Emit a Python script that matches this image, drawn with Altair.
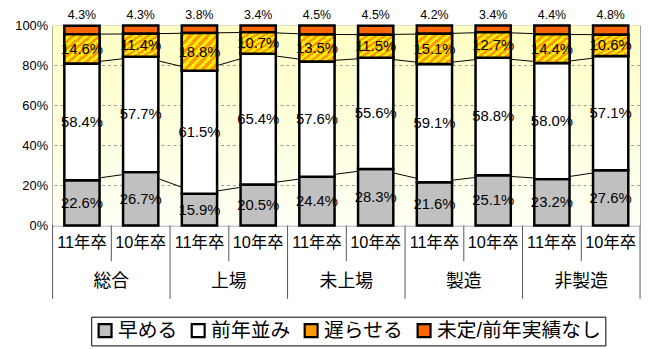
import altair as alt
import pandas as pd

groups = ["総合", "上場", "未上場", "製造", "非製造"]
years = ["11年卒", "10年卒"]
cats = ["早める", "前年並み", "遅らせる", "未定/前年実績なし"]
early = [22.6, 26.7, 15.9, 20.5, 24.4, 28.3, 21.6, 25.1, 23.2, 27.6]
same = [58.4, 57.7, 61.5, 65.4, 57.6, 55.6, 59.1, 58.8, 58.0, 57.1]
late = [14.6, 11.4, 18.8, 10.7, 13.5, 11.5, 15.1, 12.7, 14.4, 10.6]
undecided = [4.3, 4.3, 3.8, 3.4, 4.5, 4.5, 4.2, 3.4, 4.4, 4.8]
colors = ["#C0C0C0", "#FFFFFF", "#FF9900", "#FF6600"]

series = [early, same, late, undecided]
rows, lines, xlab = [], [], []
for i in range(10):
    y0 = 0.0
    for c, vals in zip(cats, series):
        v = vals[i]
        y1 = min(y0 + v, 100.0)
        rows.append(dict(i=i, xl=i + 0.2, xr=i + 0.8, xc=i + 0.5, cat=c,
                         y0=y0, y1=y1, mid=(y0 + y1) / 2, label=f"{v:.1f}%"))
        if c != cats[-1]:
            lines.append(dict(xc=i + 0.5, lvl=c, v=y1))
        y0 = y1
    xlab.append(dict(xc=i + 0.5, t=years[i % 2]))
df = pd.DataFrame(rows)
ldf = pd.DataFrame(lines)
xdf = pd.DataFrame(xlab)
gdf = pd.DataFrame({"xc": [2 * g + 1 for g in range(5)], "t": groups})
sep_long = pd.DataFrame({"x": [0, 2, 4, 6, 8, 10]})
sep_short = pd.DataFrame({"x": [1, 3, 5, 7, 9]})
grid = pd.DataFrame({"g": [20, 40, 60, 80]})
bg = pd.DataFrame({"x0": [0], "x1": [10], "y0": [0], "y1": [100]})

FONT = "Liberation Sans, Noto Sans CJK JP"
NARROW = "Liberation Sans Narrow, Liberation Sans, Noto Sans CJK JP"

xs = alt.Scale(domain=[0, 10], nice=False, zero=False)
ys = alt.Scale(domain=[0, 100], nice=False)

bg_grad = alt.LinearGradient(gradient="linear", x1=0, y1=0, x2=0, y2=1,
                             stops=[alt.GradientStop(offset=0, color="#FFFFC4"),
                                    alt.GradientStop(offset=1, color="#FFFFF6")])
stops = []
n = 16
for k in range(n):
    col = "#FF9900" if k % 2 == 0 else "#FFF000"
    stops.append(alt.GradientStop(offset=k / n, color=col))
    stops.append(alt.GradientStop(offset=(k + 1) / n, color=col))
stripe = alt.LinearGradient(gradient="linear", x1=0, y1=0, x2=1, y2=1, stops=stops)

background = alt.Chart(bg).mark_rect(fill=bg_grad).encode(
    x=alt.X("x0:Q", scale=xs, axis=None), x2="x1",
    y=alt.Y("y0:Q", scale=ys, axis=alt.Axis(values=[0, 20, 40, 60, 80, 100],
                                            labelExpr="datum.value + '%'", title=None,
                                            grid=False, ticks=False, labelPadding=5,
                                            labelFontSize=13, labelColor="black",
                                            domainColor="#555", domainWidth=1.5)),
    y2="y1")

gridlines = alt.Chart(grid).mark_rule(strokeDash=[3, 3], color="#9a9a9a", strokeWidth=1).encode(
    y=alt.Y("g:Q", scale=ys))

conn = alt.Chart(ldf).mark_line(color="black", strokeWidth=1).encode(
    x=alt.X("xc:Q", scale=xs), y=alt.Y("v:Q", scale=ys), detail="lvl:N")

bars = alt.Chart(df).mark_rect(stroke="black", strokeWidth=2.5).encode(
    x=alt.X("xl:Q", scale=xs), x2="xr",
    y=alt.Y("y0:Q", scale=ys), y2="y1",
    color=alt.Color("cat:N", scale=alt.Scale(domain=cats, range=colors),
                    legend=alt.Legend(title=None, orient="none", legendX=39, legendY=294,
                                      direction="horizontal", columns=4,
                                      symbolType="square", symbolSize=170,
                                      symbolStrokeColor="black", symbolStrokeWidth=2.2,
                                      labelFontSize=20, labelColor="black", labelFont=FONT,
                                      labelLimit=400,
                                      strokeColor="black", padding=4,
                                      columnPadding=10, labelOffset=3,
                                      fillColor="white")))

stripes = alt.Chart(df).transform_filter(alt.datum.cat == cats[2]).mark_rect(
    fill=stripe, stroke="black", strokeWidth=2.5).encode(
    x=alt.X("xl:Q", scale=xs), x2="xr", y=alt.Y("y0:Q", scale=ys), y2="y1")

inner = alt.Chart(df).transform_filter(alt.datum.cat != cats[3]).mark_text(
    fontSize=15, color="black", font=NARROW).encode(
    x=alt.X("xc:Q", scale=xs), y=alt.Y("mid:Q", scale=ys), text="label:N")

top = alt.Chart(df).transform_filter(alt.datum.cat == cats[3]).mark_text(
    fontSize=12.5, color="black", baseline="alphabetic").encode(
    x=alt.X("xc:Q", scale=xs), y=alt.value(-7), text="label:N")

sl = alt.Chart(sep_long).mark_rule(color="#555", strokeWidth=1).encode(
    x=alt.X("x:Q", scale=xs), y=alt.value(202), y2=alt.value(276))
ss = alt.Chart(sep_short).mark_rule(color="#555", strokeWidth=1).encode(
    x=alt.X("x:Q", scale=xs), y=alt.value(202), y2=alt.value(238))

ylab = alt.Chart(xdf).mark_text(fontSize=16.5, color="black").encode(
    x=alt.X("xc:Q", scale=xs), y=alt.value(220), text="t:N")
glab = alt.Chart(gdf).mark_text(fontSize=18, color="black").encode(
    x=alt.X("xc:Q", scale=xs), y=alt.value(259), text="t:N")

chart = alt.layer(background, gridlines, conn, bars, stripes, inner, top, sl, ss, ylab, glab).properties(
    width=593, height=202,
    padding={"left": 45, "top": 16, "right": 4, "bottom": 123},
    autosize=alt.AutoSizeParams(type="none"),
).configure(font=FONT).configure_view(stroke="#999", strokeWidth=1)

chart.save("out.html", embed_options={"renderer": "svg", "actions": False})
